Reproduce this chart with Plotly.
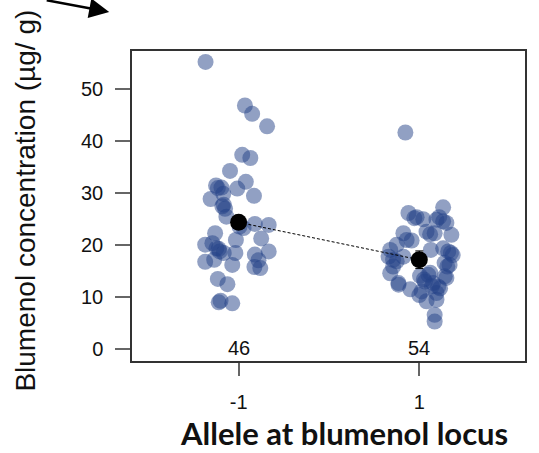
import plotly.graph_objects as go

# Group -1 (allele -1): jittered x positions and concentrations
neg_x = [-1.366, -0.93, -0.85, -0.685, -0.96, -0.87, -1.095, -0.92, -1.015, -1.25,
         -1.19, -1.17, -1.31, -0.83, -1.165, -1.15, -1.135, -0.99, -0.82, -0.667,
         -0.945, -1.26, -1.03, -0.75, -1.37, -1.29, -1.245, -1.21, -1.165, -1.036,
         -0.667, -0.82, -1.37, -1.27, -1.07, -0.78, -0.825, -0.76, -1.23, -1.124,
         -1.22, -1.20, -1.07, -1.23, -1.18, -1.22]
neg_y = [55.2, 46.8, 45.2, 42.8, 37.3, 36.7, 34.2, 32.1, 30.8, 31.4,
         31.0, 29.8, 28.8, 29.4, 27.7, 26.9, 25.4, 23.5, 24.0, 23.8,
         23.2, 22.2, 20.9, 21.2, 20.0, 20.3, 19.3, 18.7, 18.4, 18.4,
         18.7, 18.1, 16.7, 17.1, 16.1, 17.0, 15.7, 15.5, 13.4, 12.4,
         8.9, 9.2, 8.7, 30.9, 27.4, 19.2]

# Group 1 (allele 1)
pos_x = [1.264, 0.88, 0.945, 1.044, 1.19, 1.264, 0.824, 1.08, 1.17, 1.355,
         0.915, 0.75, 0.678, 1.128, 1.264, 1.35, 0.66, 0.75, 0.824, 1.31,
         1.335, 0.678, 1.008, 1.10, 1.282, 0.77, 1.063, 1.154, 1.21, 0.90,
         1.025, 1.19, 1.08, 1.19, 1.17, 1.17, 0.846,
         0.97, 1.22, 1.30, 1.12, 0.86, 1.32, 1.37, 0.71, 1.28, 0.71,
         1.12, 1.30, 1.05, 1.14, 1.23, 0.77, 1.0]
pos_y = [27.2, 26.1, 25.1, 24.9, 24.8, 24.5, 22.2, 22.5, 22.2, 21.9,
         20.8, 20.0, 19.0, 19.0, 19.3, 18.4, 17.7, 16.8, 17.7, 15.8,
         16.1, 14.5, 14.0, 14.2, 13.9, 12.3, 12.9, 12.6, 11.9, 11.4,
         11.0, 10.7, 9.1, 9.4, 6.5, 5.2, 41.6,
         25.3, 25.3, 24.2, 22.0, 20.9, 18.7, 18.0, 17.1, 16.5, 15.8,
         14.6, 13.6, 13.3, 12.0, 11.6, 12.6, 10.3]

alleles = [-1, 1]
means = [24.3, 17.1]
se = [1.3, 1.7]
counts = ["46", "54"]
y_ticks = [0, 10, 20, 30, 40, 50]

pt_color = "rgba(35,65,135,0.5)"

fig = go.Figure()
fig.add_trace(go.Scatter(x=neg_x, y=neg_y, mode="markers",
                         marker=dict(size=16, color=pt_color, line=dict(width=0)),
                         hoverinfo="skip", showlegend=False))
fig.add_trace(go.Scatter(x=pos_x, y=pos_y, mode="markers",
                         marker=dict(size=16, color=pt_color, line=dict(width=0)),
                         hoverinfo="skip", showlegend=False))
fig.add_trace(go.Scatter(x=alleles, y=means, mode="lines+markers",
                         line=dict(color="black", width=1, dash="3px,2px"),
                         marker=dict(size=17, color="black"),
                         error_y=dict(type="data", array=se, color="black",
                                      thickness=1, width=4),
                         showlegend=False))

annotations = []
for a, c in zip(alleles, counts):
    annotations.append(dict(x=a, y=0.2, xref="x", yref="y", text=c, showarrow=False,
                            yanchor="middle", xanchor="center",
                            font=dict(family="Liberation Sans, Arial", size=20, color="#111")))

annotations.append(dict(x=-0.271, y=0.519, xref="paper", yref="paper",
                        text="Blumenol concentration (µg/ g)", textangle=-90,
                        showarrow=False, xanchor="center", yanchor="middle",
                        font=dict(family="Liberation Sans, Arial", size=28, color="#111")))
annotations.append(dict(x=0.54, y=-0.232, xref="paper", yref="paper",
                        text="<b>Allele at blumenol locus</b>", showarrow=False,
                        xanchor="center", yanchor="middle",
                        font=dict(family="Lato", size=31, color="#111")))
annotations.append(dict(x=-0.058, y=1.126, xref="paper", yref="paper", text="",
                        showarrow=True, ax=-64, ay=-16, arrowhead=2, arrowsize=1.6,
                        arrowwidth=2.5, arrowcolor="black"))

fig.update_layout(
    width=539, height=453,
    margin=dict(l=132, r=12, t=51, b=92),
    paper_bgcolor="white", plot_bgcolor="white",
    annotations=annotations,
    xaxis=dict(range=[-2.18, 2.17], tickvals=alleles, ticktext=["-1", "1"],
               showgrid=False, zeroline=False, showline=True, mirror=True,
               linecolor="#333", linewidth=1.5, ticks="outside", ticklen=13,
               tickcolor="#666", tickwidth=1.5, ticklabelstandoff=9,
               tickfont=dict(family="Liberation Sans, Arial", size=20, color="#111")),
    yaxis=dict(range=[-2.4, 57.3], tickvals=y_ticks,
               showgrid=False, zeroline=False, showline=True, mirror=True,
               linecolor="#333", linewidth=1.5, ticks="outside", ticklen=15,
               tickcolor="#666", tickwidth=1.5, ticklabelstandoff=8,
               tickfont=dict(family="Liberation Sans, Arial", size=20, color="#111")),
)

fig.write_html("out.html")
